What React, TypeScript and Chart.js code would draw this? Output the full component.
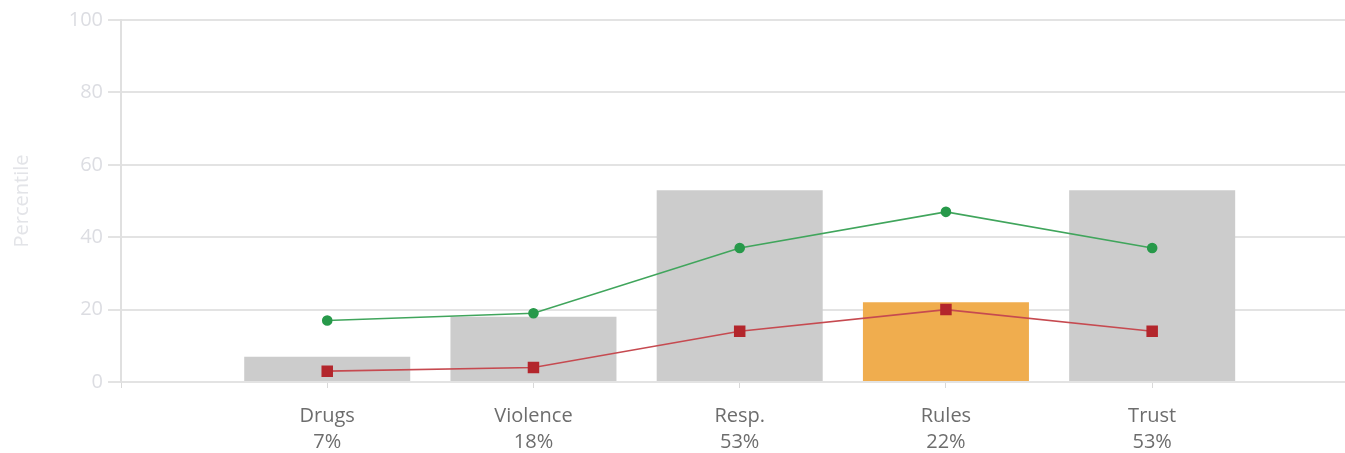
import React, { useEffect, useRef } from "react";
import { Chart, registerables } from "chart.js";

Chart.register(...registerables);

const categories = ["Drugs", "Violence", "Resp.", "Rules", "Trust"];
const barValues = [7, 18, 53, 22, 53];
const barColors = ["#cccccc", "#cccccc", "#cccccc", "#f0ad4e", "#cccccc"];
const greenValues = [17, 19, 37, 47, 37];
const redValues = [3, 4, 14, 20, 14];
const yTicks = [0, 20, 40, 60, 80, 100];

const FONT = "'Open Sans', 'DejaVu Sans', sans-serif";
const W = 1345;
const H = 453;

if (typeof document !== "undefined") {
  document.body.style.margin = "0";
}

export default function App() {
  const ref = useRef<HTMLCanvasElement | null>(null);

  useEffect(() => {
    document.body.style.margin = "0";
    const canvas = ref.current;
    if (!canvas) return;
    const chart = new Chart(canvas, {
      type: "bar",
      data: {
        datasets: [
          {
            type: "line",
            data: greenValues.map((v, i) => ({ x: i, y: v })),
            borderColor: "#40a55c",
            pointBackgroundColor: "#27994a",
            pointBorderColor: "#27994a",
            borderWidth: 1.6,
            pointRadius: 4.5,
            pointStyle: "circle",
            tension: 0,
            order: 0,
          } as any,
          {
            type: "line",
            data: redValues.map((v, i) => ({ x: i, y: v })),
            borderColor: "#c64a50",
            pointBackgroundColor: "#b3262c",
            pointBorderColor: "#b3262c",
            borderWidth: 1.6,
            pointRadius: 7,
            pointStyle: "rect",
            tension: 0,
            order: 0,
          } as any,
          {
            type: "bar",
            data: barValues.map((v, i) => ({ x: i, y: v })),
            backgroundColor: barColors,
            borderWidth: 0,
            categoryPercentage: 1,
            barPercentage: 0.805,
            order: 1,
          } as any,
        ],
      },
      options: {
        animation: false,
        responsive: false,
        devicePixelRatio: 1,
        layout: { padding: { top: 20, left: 0, right: 0, bottom: 0 } },
        plugins: {
          legend: { display: false },
          tooltip: { enabled: false },
        },
        scales: {
          x: {
            type: "linear",
            min: -1,
            max: 4.935,
            offset: false,
            afterBuildTicks: (scale: any) => {
              scale.ticks = [-1, ...categories.map((_, i) => i)].map((v) => ({ value: v }));
            },
            afterFit: (scale: any) => {
              scale.height = 71;
            },
            grid: {
              offset: false,
              drawOnChartArea: false,
              drawTicks: true,
              tickLength: 6,
              color: "#d9d9d9",
              lineWidth: 1,
            },
            border: { display: false },
            ticks: {
              autoSkip: false,
              maxRotation: 0,
              padding: 15,
              color: "#6d6d6d",
              font: { family: FONT, size: 20, lineHeight: 1.3 },
              callback: (value: any) => {
                const i = Number(value);
                if (i < 0 || i >= categories.length) return "";
                return [categories[i], `${barValues[i]}%`];
              },
            },
          },
          y: {
            type: "linear",
            min: 0,
            max: 100,
            afterBuildTicks: (scale: any) => {
              scale.ticks = yTicks.map((v) => ({ value: v }));
            },
            afterFit: (scale: any) => {
              scale.width = 121;
            },
            grid: {
              color: "#e3e3e3",
              lineWidth: 2,
              tickLength: 13,
              drawTicks: true,
            },
            border: { display: true, color: "#e0e0e0", width: 2 },
            ticks: {
              padding: 5,
              color: "#dcdde2",
              font: { family: FONT, size: 20 },
            },
            title: {
              display: true,
              text: "Percentile",
              color: "#e3e4e8",
              font: { family: FONT, size: 20 },
              padding: { top: 10, bottom: 0 },
            },
          },
        },
      },
    });
    // Stop point markers from reserving extra padding around the chart area
    chart.data.datasets.forEach((_, i) => {
      const c: any = chart.getDatasetMeta(i).controller;
      if (c) c.getMaxOverflow = () => 0;
    });
    chart.update();
    return () => chart.destroy();
  }, []);

  return (
    <div style={{ width: W + "px", height: H + "px", position: "relative", overflow: "hidden" }}>
      <canvas ref={ref} width={W} height={H} style={{ width: W + "px", height: H + "px", display: "block" }} />
    </div>
  );
}
